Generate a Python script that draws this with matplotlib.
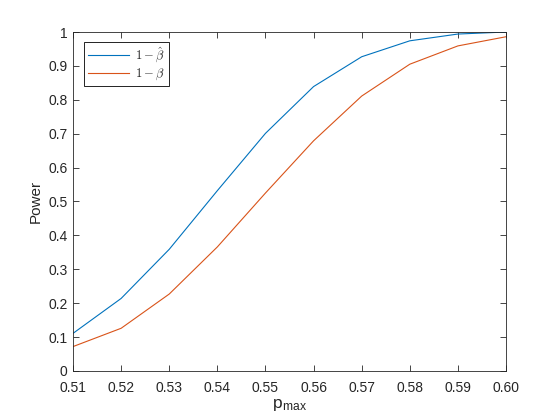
import matplotlib
matplotlib.use('Agg')
import matplotlib.pyplot as plt

# p_max values and estimated power curves
p_max = [0.51, 0.52, 0.53, 0.54, 0.55, 0.56, 0.57, 0.58, 0.59, 0.60]
power_hat = [0.111, 0.214, 0.359, 0.532, 0.701, 0.839, 0.927, 0.974, 0.994, 1.0]
power = [0.072, 0.126, 0.227, 0.366, 0.525, 0.679, 0.811, 0.905, 0.959, 0.986]

x_ticks = [0.51, 0.52, 0.53, 0.54, 0.55, 0.56, 0.57, 0.58, 0.59, 0.60]
x_tick_labels = ['0.51', '0.52', '0.53', '0.54', '0.55', '0.56', '0.57', '0.58', '0.59', '0.60']
y_ticks = [0, 0.1, 0.2, 0.3, 0.4, 0.5, 0.6, 0.7, 0.8, 0.9, 1]
y_tick_labels = ['0', '0.1', '0.2', '0.3', '0.4', '0.5', '0.6', '0.7', '0.8', '0.9', '1']

plt.rcParams['font.family'] = ['Liberation Sans', 'DejaVu Sans']
plt.rcParams['mathtext.fontset'] = 'cm'

dark = '#262626'

fig = plt.figure(figsize=(5.6, 4.2), dpi=100)
ax = fig.add_axes([0.1304, 0.1167, 0.7732, 0.8071])

ax.plot(p_max, power_hat, color='#0072BD', linewidth=0.8, label=r'$1-\hat{\beta}$')
ax.plot(p_max, power, color='#D95319', linewidth=0.8, label=r'$1-\beta$')

ax.set_xlim(0.51, 0.60)
ax.set_ylim(0, 1)
ax.set_xticks(x_ticks)
ax.set_xticklabels(x_tick_labels)
ax.set_yticks(y_ticks)
ax.set_yticklabels(y_tick_labels)
ax.tick_params(direction='in', top=True, right=True, labelsize=10,
               colors=dark, length=4, width=0.6)
ax.tick_params(axis='x', pad=7)
ax.tick_params(axis='y', pad=4)
for s in ax.spines.values():
    s.set_color(dark)
    s.set_linewidth(0.6)

ax.set_xlabel(r'p$_{\mathregular{max}}$', fontsize=12.5, color=dark, labelpad=2)
ax.set_ylabel('Power', fontsize=11, color=dark, labelpad=4)

leg = ax.legend(loc='upper left', bbox_to_anchor=(0.025, 0.97), fontsize=9,
                handlelength=3.3, handletextpad=0.5, borderpad=0.3,
                labelspacing=0.15, fancybox=False, framealpha=1,
                edgecolor='black', borderaxespad=0)
leg.get_frame().set_linewidth(0.6)
for t in leg.get_texts():
    t.set_color(dark)

fig.savefig('out.png', dpi=100)
